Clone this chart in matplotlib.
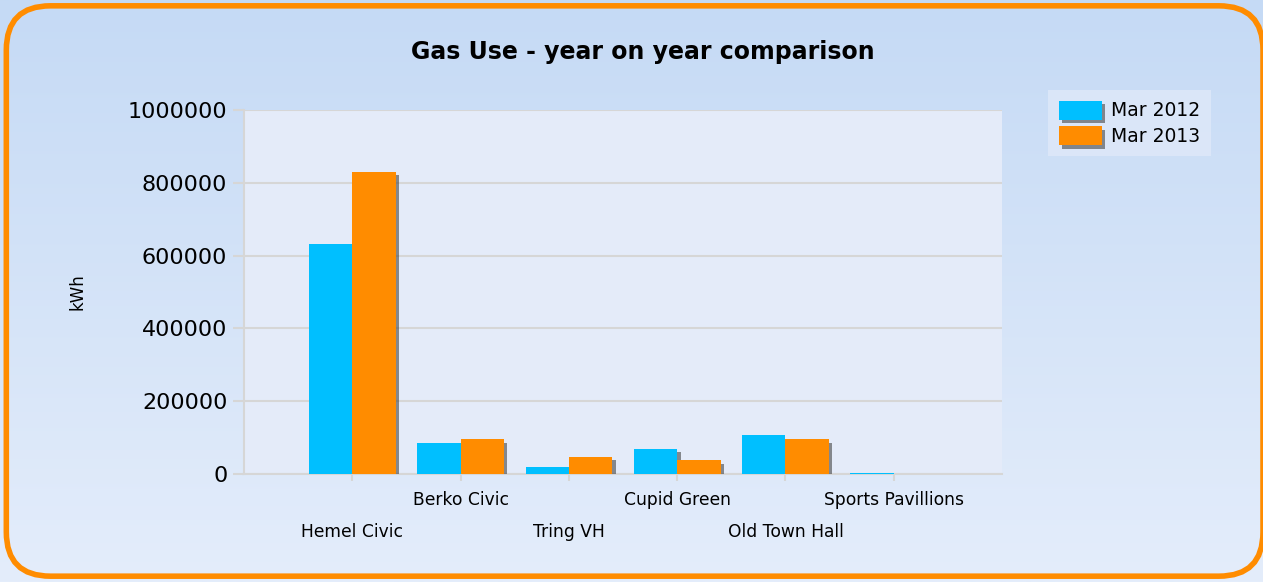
import matplotlib
matplotlib.use("Agg")
import matplotlib.pyplot as plt
import matplotlib.patheffects as pe
from matplotlib.patches import FancyBboxPatch
import numpy as np

categories = ["Hemel Civic", "Berko Civic", "Tring VH", "Cupid Green", "Old Town Hall", "Sports Pavillions"]
mar_2012 = [632000, 85000, 19000, 69000, 107000, 4000]
mar_2013 = [830000, 96000, 47000, 38000, 96000, -2000]
series_labels = ["Mar 2012", "Mar 2013"]
y_ticks = [0, 200000, 400000, 600000, 800000, 1000000]

BLUE, ORANGE = "#00bfff", "#ff8c00"
GRID = "#d6d6d6"
plt.rcParams.update({"font.family": "DejaVu Sans"})

fig = plt.figure(figsize=(12.63, 5.82), dpi=100)

# background gradient + rounded orange frame
bg = fig.add_axes([0, 0, 1, 1], zorder=-10)
grad = np.linspace(0, 1, 256).reshape(-1, 1)
top, bot = np.array([0xc5, 0xda, 0xf5]) / 255, np.array([0xe4, 0xed, 0xfb]) / 255
img = top + (bot - top) * grad[..., None]
bg.imshow(img, aspect="auto", extent=[0, 1, 0, 1], origin="upper")
bg.set_xlim(0, 1); bg.set_ylim(0, 1); bg.axis("off")
frame = FancyBboxPatch((0.005, 0.01), 0.995, 0.98, boxstyle="round,pad=0,rounding_size=0.035",
                       transform=bg.transAxes, facecolor="none", edgecolor=ORANGE, lw=4,
                       mutation_aspect=1263 / 582)
bg.add_patch(frame)

ax = fig.add_axes([0.1932, 0.1856, 0.6002, 0.6254])
ax.set_facecolor("#e4ebf9")
x = np.arange(len(categories))
w = 0.4
shadow = [pe.SimplePatchShadow(offset=(2.5, -2.5), shadow_rgbFace="#444444", alpha=0.6), pe.Normal()]
b1 = ax.bar(x - w / 2, mar_2012, w, color=BLUE, label=series_labels[0], zorder=3, path_effects=shadow)
b2 = ax.bar(x + w / 2, mar_2013, w, color=ORANGE, label=series_labels[1], zorder=3, path_effects=shadow)

ax.set_xlim(-1.0, 6.0)
ax.set_ylim(0, 1000000)
ax.set_yticks(y_ticks)
ax.set_yticklabels([str(v) for v in y_ticks], fontsize=16)
ax.grid(axis="y", color=GRID, lw=1.5, zorder=1)
ax.set_xticks(x)
ax.set_xticklabels([])
for i, c in enumerate(categories):
    ax.annotate(c, (i, 0), xycoords=("data", "axes fraction"), xytext=(0, -26 if i % 2 else -58),
                textcoords="offset pixels", ha="center", va="center", fontsize=12.3)
for s in ("top", "right"):
    ax.spines[s].set_visible(False)
for s in ("left", "bottom"):
    ax.spines[s].set_color(GRID); ax.spines[s].set_linewidth(1.5)
ax.tick_params(axis="y", length=8, color=GRID, width=1.5, pad=4)
ax.tick_params(axis="x", length=5, color=GRID, width=1.5)
ax.set_ylabel("kWh", fontsize=12, labelpad=30)

fig.text(0.509, 0.911, "Gas Use - year on year comparison", ha="center", va="center",
         fontsize=17, fontweight="bold")

leg = fig.legend(handles=[b1, b2], loc="upper left", bbox_to_anchor=(0.83, 0.845), borderaxespad=0,
                 fontsize=13.5, frameon=True, fancybox=False, handlelength=2.3, handleheight=1.2,
                 handletextpad=0.5, borderpad=0.55, labelspacing=0.3)
leg.get_frame().set_facecolor("#dfe9f9"); leg.get_frame().set_edgecolor("none")

fig.savefig("out.png", dpi=100)
